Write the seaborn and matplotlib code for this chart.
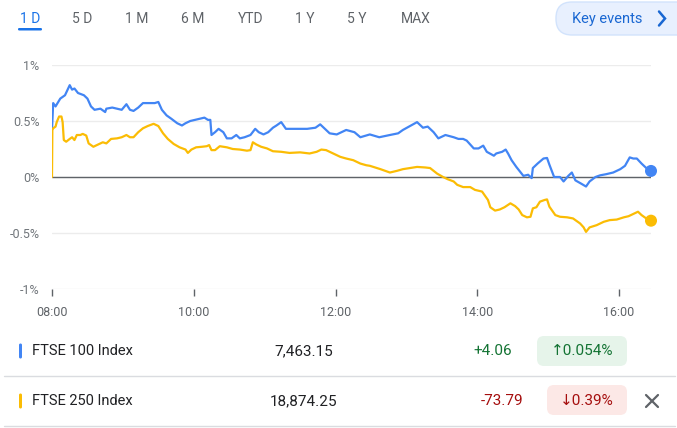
import pandas as pd
import numpy as np
import matplotlib
matplotlib.use("Agg")
import matplotlib.pyplot as plt
import seaborn as sns
from matplotlib.patches import FancyBboxPatch

# Data (minutes after 08:00, % change from previous close)
ftse100_minutes = [0, 1, 3, 7, 11, 15, 17, 19, 22, 27, 30, 33, 36, 41, 45, 46, 51, 55, 59, 63,
                   66, 69, 73, 77, 83, 87, 90, 93, 97, 101, 106, 110, 113, 117, 121, 125, 129, 132,
                   134, 135, 138, 141, 145, 148, 152, 156, 159, 163, 168, 172, 175, 179, 183, 187,
                   190, 194, 198, 204, 210, 216, 223, 227, 231, 235, 241, 249, 256, 261, 269, 277,
                   286, 293, 297, 303, 309, 314, 318, 323, 327, 333, 340, 344, 348, 351, 357, 361,
                   365, 368, 374, 376, 381, 384, 386, 389, 393, 399, 403, 406, 407, 411, 416, 419,
                   421, 425, 430, 433, 437, 440, 443, 448, 452, 455, 460, 464, 469, 475, 481, 485,
                   489, 492, 495, 499, 503, 507]
ftse100_pct = [0.42, 0.66, 0.63, 0.70, 0.73, 0.82, 0.78, 0.79, 0.75, 0.73, 0.70, 0.63, 0.60, 0.61,
               0.58, 0.61, 0.62, 0.61, 0.60, 0.65, 0.60, 0.59, 0.62, 0.66, 0.66, 0.66, 0.67, 0.60,
               0.55, 0.52, 0.48, 0.46, 0.48, 0.50, 0.51, 0.52, 0.53, 0.51, 0.51, 0.375, 0.40, 0.43,
               0.40, 0.345, 0.345, 0.375, 0.345, 0.355, 0.375, 0.43, 0.40, 0.38, 0.40, 0.44, 0.46,
               0.49, 0.43, 0.43, 0.43, 0.43, 0.44, 0.47, 0.43, 0.39, 0.38, 0.42, 0.40, 0.355, 0.38,
               0.355, 0.375, 0.39, 0.42, 0.455, 0.49, 0.44, 0.45, 0.40, 0.345, 0.375, 0.355, 0.34,
               0.34, 0.325, 0.255, 0.255, 0.28, 0.225, 0.19, 0.21, 0.225, 0.245, 0.21, 0.15, 0.09,
               0.01, 0.02, -0.01, 0.08, 0.12, 0.165, 0.17, 0.11, 0.0, 0.0, -0.04, 0.01, 0.04, -0.03,
               -0.06, -0.085, -0.04, 0.0, 0.015, 0.025, 0.04, 0.07, 0.10, 0.175, 0.165, 0.165, 0.12,
               0.08, 0.054]

ftse250_minutes = [0, 0.3, 1, 3, 4, 6, 8, 9, 10, 12, 15, 17, 19, 21, 24, 26, 29, 31, 35, 39, 43,
                   46, 50, 55, 59, 63, 66, 69, 73, 77, 81, 86, 90, 94, 98, 103, 108, 113, 115, 118,
                   122, 127, 131, 133, 135, 138, 142, 148, 153, 159, 165, 168, 170, 173, 177, 182,
                   187, 194, 201, 210, 218, 224, 228, 232, 238, 244, 249, 255, 261, 266, 269, 278,
                   286, 292, 297, 303, 309, 316, 320, 326, 331, 335, 340, 343, 348, 354, 358, 364,
                   367, 369, 371, 375, 379, 383, 388, 392, 395, 398, 402, 405, 407, 410, 413, 417,
                   419, 421, 426, 430, 436, 441, 447, 450, 452, 455, 461, 467, 472, 478, 484, 488,
                   492, 496, 499, 503, 507]
ftse250_pct = [0.0, 0.42, 0.435, 0.45, 0.49, 0.54, 0.54, 0.49, 0.33, 0.315, 0.34, 0.355, 0.33,
               0.375, 0.375, 0.385, 0.37, 0.30, 0.27, 0.29, 0.31, 0.30, 0.34, 0.345, 0.355, 0.375,
               0.355, 0.355, 0.40, 0.435, 0.455, 0.475, 0.455, 0.39, 0.34, 0.295, 0.265, 0.245,
               0.215, 0.245, 0.265, 0.27, 0.275, 0.285, 0.24, 0.24, 0.275, 0.265, 0.25, 0.245,
               0.235, 0.24, 0.31, 0.29, 0.27, 0.255, 0.23, 0.225, 0.215, 0.22, 0.21, 0.225, 0.245,
               0.24, 0.21, 0.18, 0.165, 0.15, 0.12, 0.105, 0.10, 0.07, 0.04, 0.055, 0.07, 0.08,
               0.09, 0.085, 0.08, 0.03, 0.0, -0.02, -0.04, -0.07, -0.09, -0.09, -0.115, -0.13,
               -0.175, -0.205, -0.27, -0.30, -0.29, -0.27, -0.235, -0.26, -0.29, -0.34, -0.36,
               -0.355, -0.28, -0.27, -0.22, -0.205, -0.20, -0.265, -0.34, -0.355, -0.36, -0.37,
               -0.415, -0.45, -0.49, -0.45, -0.43, -0.40, -0.385, -0.38, -0.36, -0.35, -0.33,
               -0.31, -0.34, -0.37, -0.39]

x_tick_minutes = [0, 120, 240, 360, 480]
x_tick_labels = ["08:00", "10:00", "12:00", "14:00", "16:00"]
y_ticks = [-1, -0.5, 0, 0.5, 1]
y_tick_labels = ["-1%", "-0.5%", "0%", "0.5%", "1%"]

tabs = ["1 D", "5 D", "1 M", "6 M", "YTD", "1 Y", "5 Y", "MAX"]
names = ["FTSE 100 Index", "FTSE 250 Index"]
prices = ["7,463.15", "18,874.25"]
changes = ["+4.06", "-73.79"]
pct_badges = ["\u21910.054%", "\u21930.39%"]

BLUE = "#4285f4"
YELLOW = "#fbbc04"
palette = {names[0]: BLUE, names[1]: YELLOW}

df = pd.concat([
    pd.DataFrame({"minute": ftse100_minutes, "pct": ftse100_pct, "index": names[0]}),
    pd.DataFrame({"minute": ftse250_minutes, "pct": ftse250_pct, "index": names[1]}),
], ignore_index=True)
last = df.groupby("index", sort=False).tail(1)

sns.set_style("white")
plt.rcParams["font.family"] = ["Roboto", "DejaVu Sans"]

W, H = 677, 428
fig = plt.figure(figsize=(W / 100, H / 100), dpi=100)

# chart area
ax = fig.add_axes([52 / W, 1 - 289 / H, 599 / W, 224 / H])
sns.lineplot(data=df, x="minute", y="pct", hue="index", palette=palette,
             estimator=None, sort=False, linewidth=1.6, legend=False, ax=ax, zorder=3)
sns.scatterplot(data=last, x="minute", y="pct", hue="index", palette=palette,
                s=75, edgecolor="none", legend=False, ax=ax, zorder=4, clip_on=False)
ax.set_xlim(0, ftse100_minutes[-1])
ax.set_ylim(-1, 1)
ax.set_yticks(y_ticks)
ax.set_yticklabels(y_tick_labels)
ax.set_xticks(x_tick_minutes)
ax.set_xticklabels(x_tick_labels)
ax.grid(axis="y", color="#ececec", linewidth=1)
ax.grid(axis="x", visible=False)
ax.axhline(0, color="#5f6368", linewidth=1, zorder=2)
for s in ax.spines.values():
    s.set_visible(False)
ax.tick_params(axis="y", length=0, pad=9, labelsize=9, labelcolor="#70757a")
ax.tick_params(axis="x", length=5, width=1, color="#5f6368", direction="out",
               pad=7, labelsize=9, labelcolor="#5f6368", bottom=True)
ax.set_xlabel("")
ax.set_ylabel("")

# overlay in pixel coordinates
ov = fig.add_axes([0, 0, 1, 1], zorder=-1)
ov.set_xlim(0, W)
ov.set_ylim(H, 0)
ov.axis("off")

tab_x = [30, 82, 137, 193, 251, 305, 357, 416]
for i, (t, x) in enumerate(zip(tabs, tab_x)):
    ov.text(x, 19, t, ha="center", va="center", fontsize=10,
            color="#1a73e8" if i == 0 else "#5f6368")
ov.add_patch(FancyBboxPatch((18, 28), 24, 2.5, boxstyle="round,pad=0,rounding_size=1.2",
                            facecolor="#1a73e8", edgecolor="none"))

ov.add_patch(FancyBboxPatch((556, 2), 140, 33, boxstyle="round,pad=0,rounding_size=16",
                            facecolor="#e8f0fe", edgecolor="#d2e3fc", linewidth=1, clip_on=False))
ov.text(572, 18.5, "Key events", ha="left", va="center", fontsize=10.5, color="#1967d2")
ov.plot([659, 665, 659], [11.5, 18.5, 25.5], color="#1967d2", linewidth=1.8,
        solid_capstyle="round", solid_joinstyle="miter")

# table rows
row_y = [351, 401]
bar_colors = [BLUE, YELLOW]
change_colors = ["#137333", "#a50e0e"]
badge_bg = ["#e6f4ea", "#fce8e6"]
badge_box = [(537, 336, 90, 30), (547, 385, 80, 30)]
change_right = [512, 523]
for i in range(2):
    y = row_y[i]
    ov.add_patch(FancyBboxPatch((19, y - 7.5), 3, 15, boxstyle="round,pad=0,rounding_size=1.5",
                                facecolor=bar_colors[i], edgecolor="none"))
    ov.text(32, y, names[i], ha="left", va="center", fontsize=10.5, color="#202124")
    ov.text(304, y, prices[i], ha="center", va="center", fontsize=11, color="#202124")
    ov.text(change_right[i], y, changes[i], ha="right", va="center", fontsize=11,
            color=change_colors[i])
    bx, by, bw, bh = badge_box[i]
    ov.add_patch(FancyBboxPatch((bx, by), bw, bh, boxstyle="round,pad=0,rounding_size=7",
                                facecolor=badge_bg[i], edgecolor="none"))
    ov.text(bx + bw / 2, y, pct_badges[i], ha="center", va="center", fontsize=11,
            color=change_colors[i], family=["Roboto", "DejaVu Sans"])

ov.plot([4, 675], [376, 376], color="#dadce0", linewidth=1)
ov.plot([4, 675], [425.5, 425.5], color="#dadce0", linewidth=1)
ov.plot([646, 658], [395, 407], color="#5f6368", linewidth=1.6)
ov.plot([646, 658], [407, 395], color="#5f6368", linewidth=1.6)

fig.savefig("out.png", dpi=100)
